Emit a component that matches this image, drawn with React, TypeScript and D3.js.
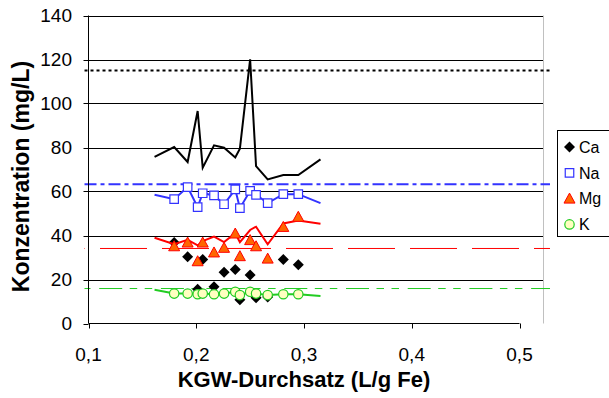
import React from 'react';
import * as d3 from 'd3';

// ---- data ----
const markerX = [0.1795, 0.192, 0.2013, 0.206, 0.2165, 0.2258, 0.2362, 0.2405, 0.25, 0.2555, 0.2663, 0.2808, 0.2947];
const lineX = [0.1613, 0.1795, 0.192, 0.2013, 0.206, 0.2165, 0.2258, 0.2362, 0.2405, 0.25, 0.2555, 0.2663, 0.2808, 0.2947, 0.3153];

const caValues = [36.8, 30.3, 15.6, 29.1, 16.7, 23.3, 24.5, 10.8, 22.0, 11.7, 12.0, 29.1, 26.7];
const naValues = [56.5, 62.0, 52.9, 59.2, 58.2, 54.2, 61.0, 52.4, 60.3, 58.5, 54.7, 58.8, 58.8];
const mgValues = [35.1, 36.8, 28.3, 36.8, 32.3, 34.4, 40.9, 30.6, 37.9, 35.1, 29.5, 43.9, 48.5];
const kValues = [13.6, 13.6, 13.3, 13.6, 13.3, 13.6, 14.4, 12.9, 14.4, 13.6, 12.9, 13.3, 13.3];

const blackLine = [75.7, 80.2, 73.4, 96.6, 70.8, 81.0, 79.9, 75.5, 79.5, 120.1, 71.5, 65.5, 67.5, 67.5, 74.6];
const naLine = [58.5, 56.5, 62.0, 52.9, 59.2, 58.2, 54.2, 61.0, 52.4, 60.3, 58.5, 54.7, 58.8, 58.8, 54.7];
const mgLine = [39.0, 36.0, 38.0, 35.5, 37.5, 39.5, 37.0, 41.0, 37.0, 42.5, 44.0, 36.0, 45.5, 46.8, 45.3];
const kLine = [15.3, 13.6, 13.6, 13.3, 13.6, 13.3, 13.6, 14.4, 12.9, 14.4, 13.6, 12.9, 13.3, 13.3, 12.5];

const refValues = [115, 63.3, 34.1, 15.9];
const refX = [0.0963, 0.5283];

const xTicks = [0.1, 0.2, 0.3, 0.4, 0.5];
const xTickLabels = ['0,1', '0,2', '0,3', '0,4', '0,5'];
const yTicks = [0, 20, 40, 60, 80, 100, 120, 140];
const yTickLabels = ['0', '20', '40', '60', '80', '100', '120', '140'];

const legendNames = ['Ca', 'Na', 'Mg', 'K'];

// ---- layout ----
const W = 609, H = 398;
const left = 88.5, right = 519.5, top = 15.5, bottom = 323.5, plotRight = 543;
const FONT = "'Liberation Sans', Arial, Helvetica, sans-serif";

const x = d3.scaleLinear().domain([0.1, 0.5]).range([left, right]);
const y = d3.scaleLinear().domain([0, 140]).range([bottom, top]);

const lineGen = d3.line<[number, number]>().x(d => x(d[0])).y(d => y(d[1]));
const pts = (xs: number[], ys: number[]) => xs.map((v, i) => [v, ys[i]] as [number, number]);

const diamond = (r: number) => `M0,${-r}L${r},0L0,${r}L${-r},0Z`;
const triangle = (w: number, h: number) => `M0,${-h * 0.55}L${w / 2},${h * 0.45}L${-w / 2},${h * 0.45}Z`;
const square = (s: number) => `M${-s / 2},${-s / 2}h${s}v${s}h${-s}Z`;

const BLUE = '#3333ff';
const RED = '#ff0000';
const GREEN = '#22cc22';
const ORANGE = '#ff6600';

function Marker({ kind }: { kind: number }) {
  if (kind === 0) return <path d={diamond(5.5)} fill="#000" />;
  if (kind === 1) return <path d={square(8.5)} fill="#fff" stroke={BLUE} strokeWidth={1.2} />;
  if (kind === 2) return <path d={triangle(11, 10)} fill={ORANGE} stroke={RED} strokeWidth={1} />;
  return <circle r={4.7} fill="#ffffc0" stroke={GREEN} strokeWidth={1.2} />;
}

export default function App() {
  const refStyles = [
    { stroke: '#000', width: 2, dash: '3,3', offset: 0 },
    { stroke: BLUE, width: 2, dash: '12,4,4,4', offset: 0 },
    { stroke: RED, width: 1, dash: '47,15', offset: 46.5 },
    { stroke: GREEN, width: 1, dash: '23,7.5,7.5,7.5,7.5,8.7', offset: 47 },
  ];
  return (
    <svg width={W} height={H} style={{ position: 'absolute', left: 0, top: 0, background: '#fff' }}
      fontFamily={FONT}>
      {/* gridlines */}
      {yTicks.filter(t => t > 0).map(t => (
        <line key={t} x1={left} x2={plotRight} y1={Math.round(y(t)) + 0.5} y2={Math.round(y(t)) + 0.5}
          stroke="#000" strokeWidth={1} />
      ))}
      {/* right border of plot area */}
      <line x1={plotRight + 0.5} x2={plotRight + 0.5} y1={top} y2={bottom} stroke="#c0c0c0" strokeWidth={1} />

      {/* reference lines */}
      {refValues.map((v, i) => (
        <line key={i} x1={x(refX[0])} x2={x(refX[1])} y1={y(v)} y2={y(v)}
          stroke={refStyles[i].stroke} strokeWidth={refStyles[i].width}
          strokeDasharray={refStyles[i].dash} strokeDashoffset={refStyles[i].offset} />
      ))}

      {/* axes */}
      <line x1={left} x2={left} y1={top} y2={bottom} stroke="#000" strokeWidth={1} />
      <line x1={left} x2={right} y1={bottom} y2={bottom} stroke="#000" strokeWidth={1} />
      {yTicks.map((t, i) => (
        <g key={t}>
          <line x1={left - 5} x2={left} y1={Math.round(y(t)) + 0.5} y2={Math.round(y(t)) + 0.5} stroke="#000" />
          <text x={72} y={y(t)} dy="0.36em" textAnchor="end" fontSize={19} fill="#000">{yTickLabels[i]}</text>
        </g>
      ))}
      {xTicks.map((t, i) => (
        <g key={t}>
          <line x1={Math.round(x(t)) + 0.5} x2={Math.round(x(t)) + 0.5} y1={bottom} y2={bottom + 5} stroke="#000" />
          <text x={x(t)} y={360.5} textAnchor="middle" fontSize={19} fill="#000">{xTickLabels[i]}</text>
        </g>
      ))}

      {/* axis titles */}
      <text x={304} y={386.5} textAnchor="middle" fontSize={22} fontWeight="bold" fill="#000">KGW-Durchsatz (L/g Fe)</text>
      <text transform="translate(28.5,176.5) rotate(-90)" textAnchor="middle" fontSize={23} fontWeight="bold" fill="#000">Konzentration (mg/L)</text>

      {/* black line */}
      <path d={lineGen(pts(lineX, blackLine)) || ''} fill="none" stroke="#000" strokeWidth={2} strokeLinejoin="miter" />

      {/* Ca */}
      {markerX.map((v, i) => (
        <g key={'ca' + i} transform={`translate(${x(v)},${y(caValues[i])})`}><Marker kind={0} /></g>
      ))}

      {/* Na */}
      <path d={lineGen(pts(lineX, naLine)) || ''} fill="none" stroke={BLUE} strokeWidth={2} />
      {markerX.map((v, i) => (
        <g key={'na' + i} transform={`translate(${x(v)},${y(naValues[i])})`}><Marker kind={1} /></g>
      ))}

      {/* Mg */}
      <path d={lineGen(pts(lineX, mgLine)) || ''} fill="none" stroke={RED} strokeWidth={2} />
      {markerX.map((v, i) => (
        <g key={'mg' + i} transform={`translate(${x(v)},${y(mgValues[i])})`}><Marker kind={2} /></g>
      ))}

      {/* K */}
      <path d={lineGen(pts(lineX, kLine)) || ''} fill="none" stroke={GREEN} strokeWidth={2} />
      {markerX.map((v, i) => (
        <g key={'k' + i} transform={`translate(${x(v)},${y(kValues[i])})`}><Marker kind={3} /></g>
      ))}

      {/* legend */}
      <rect x={557.5} y={130.5} width={60} height={106} fill="#fff" stroke="#000" strokeWidth={1} />
      {legendNames.map((n, i) => (
        <g key={n} transform={`translate(0,${147 + i * 25.8})`}>
          <g transform="translate(569.5,0)"><Marker kind={i} /></g>
          <text x={579} y={0} dy="0.36em" fontSize={16} fill="#000">{n}</text>
        </g>
      ))}
    </svg>
  );
}
